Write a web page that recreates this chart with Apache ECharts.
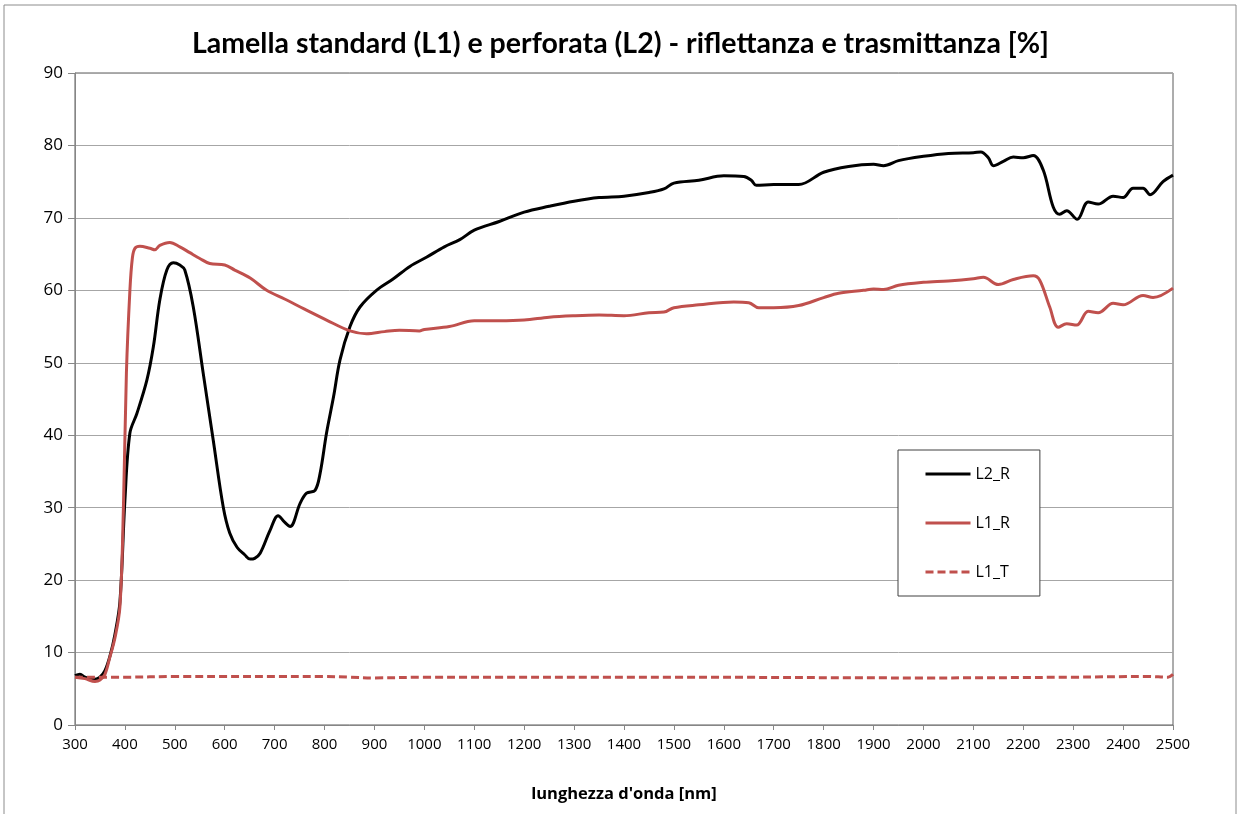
<!DOCTYPE html>
<html>
<head>
<meta charset="utf-8">
<script src="https://cdn.jsdelivr.net/npm/echarts@6/dist/echarts.min.js"></script>
<style>
  html, body { margin: 0; padding: 0; background: #fff; }
  #chart { width: 1241px; height: 814px; }
</style>
</head>
<body>
<div id="chart"></div>
<script>
// wavelength [nm], value [%]
const L2_R = [
  [300, 6.8], [310, 7.0], [320, 6.6], [330, 6.4], [340, 6.3], [350, 6.6], [360, 7.5], [370, 9.5],
  [380, 12.5], [390, 17], [400, 31], [410, 40.3], [424, 43], [444, 47.6], [457, 52.2], [470, 58.7],
  [484, 62.8], [497, 63.8], [510, 63.5], [520, 62.8], [537, 57.7], [557, 48.5], [577, 39.3],
  [597, 30.1], [610, 26.5], [625, 24.5], [640, 23.5], [651, 22.9], [660, 23], [671, 23.7],
  [691, 26.9], [707, 28.9], [720, 28], [731, 27.4], [751, 30.6], [764, 32], [781, 32.4],
  [791, 34.7], [804, 40.3], [818, 45.3], [831, 50.4], [851, 55], [871, 57.7], [904, 60],
  [938, 61.6], [971, 63.3], [1005, 64.6], [1040, 66], [1071, 67], [1100, 68.3], [1150, 69.5],
  [1200, 70.8], [1250, 71.6], [1300, 72.3], [1350, 72.8], [1400, 73], [1450, 73.5], [1480, 74],
  [1500, 74.8], [1550, 75.2], [1600, 75.8], [1640, 75.7], [1655, 75.2], [1665, 74.5], [1700, 74.6],
  [1750, 74.6], [1800, 76.3], [1850, 77.1], [1900, 77.4], [1920, 77.2], [1950, 77.9], [2000, 78.5],
  [2050, 78.9], [2100, 79], [2115, 79.1], [2130, 78.3], [2140, 77.2], [2160, 77.8], [2180, 78.4],
  [2200, 78.3], [2220, 78.6], [2240, 76.6], [2260, 71.5], [2273, 70.5], [2287, 71], [2308, 69.8],
  [2330, 72.2], [2350, 71.9], [2380, 73], [2400, 72.8], [2420, 74.1], [2440, 74.1], [2454, 73.2],
  [2480, 75], [2500, 75.9]
];

const L1_R = [
  [300, 6.6], [320, 6.4], [340, 6.0], [350, 6.2], [360, 7], [370, 9.4], [380, 12], [390, 16.3],
  [397, 30], [403, 48.6], [410, 60], [415, 64.5], [420, 65.8], [430, 66.1], [450, 65.8], [460, 65.6],
  [470, 66.2], [490, 66.6], [510, 66], [530, 65.2], [550, 64.4], [570, 63.7], [600, 63.5],
  [620, 62.8], [651, 61.7], [684, 60], [720, 58.8], [760, 57.4], [804, 55.9], [851, 54.4],
  [884, 54.0], [920, 54.3], [950, 54.5], [990, 54.4], [1000, 54.6], [1050, 55], [1100, 55.8],
  [1150, 55.8], [1200, 55.9], [1250, 56.3], [1300, 56.5], [1350, 56.6], [1400, 56.5], [1450, 56.9],
  [1480, 57.0], [1500, 57.6], [1550, 58], [1620, 58.4], [1650, 58.3], [1670, 57.6], [1700, 57.6],
  [1750, 57.9], [1800, 59], [1830, 59.6], [1880, 60], [1900, 60.2], [1920, 60.1], [1950, 60.7],
  [2000, 61.1], [2050, 61.3], [2100, 61.6], [2120, 61.8], [2150, 60.8], [2180, 61.5], [2220, 62],
  [2233, 61.4], [2253, 57.7], [2270, 54.9], [2287, 55.4], [2307, 55.2], [2330, 57.1], [2350, 56.9],
  [2380, 58.2], [2400, 58], [2440, 59.3], [2460, 59], [2500, 60.3]
];

const L1_T = [
  [300, 6.6], [400, 6.6], [500, 6.7], [800, 6.7], [850, 6.6], [900, 6.5], [1000, 6.6],
  [1500, 6.6], [2000, 6.5], [2300, 6.6], [2450, 6.7], [2490, 6.6], [2500, 7.0]
];

const seriesNames = ['L2_R', 'L1_R', 'L1_T'];
const chartTitle = "Lamella standard (L1) e perforata (L2) - riflettanza e trasmittanza [%]";
const xTitle = "lunghezza d'onda [nm]";

var myChart = echarts.init(document.getElementById('chart'));

const lineSeries = (name, data, color, type) => ({
  name: name,
  type: 'line',
  data: data,
  symbol: 'none',
  showSymbol: false,
  smooth: 0.35,
  lineStyle: { color: color, width: 3, type: type },
  itemStyle: { color: color }
});

const option = {
  backgroundColor: '#fff',
  animation: false,
  graphic: [{
    type: 'rect',
    shape: { x: 4, y: 5, width: 1232, height: 830 },
    style: { fill: 'none', stroke: '#8c8c8c', lineWidth: 1 },
    silent: true
  }],
  title: {
    text: chartTitle,
    left: 'center',
    top: 24,
    textStyle: {
      fontFamily: 'Lato',
      fontWeight: 'bold',
      fontSize: 28.5,
      color: '#000'
    }
  },
  legend: {
    data: seriesNames,
    orient: 'vertical',
    left: 898,
    top: 450,
    itemWidth: 45,
    itemHeight: 14,
    itemGap: 33,
    padding: [16, 30, 16, 26],
    backgroundColor: '#fff',
    borderColor: '#404040',
    borderWidth: 1,
    borderRadius: 0,
    itemStyle: { opacity: 0 },
    lineStyle: { width: 3 },
    textStyle: { fontFamily: 'Open Sans', fontSize: 16, color: '#000' }
  },
  grid: {
    left: 75,
    right: 68,
    top: 73,
    bottom: 89,
    show: true,
    borderColor: '#5a5a5a',
    borderWidth: 1
  },
  xAxis: {
    type: 'value',
    min: 300,
    max: 2500,
    interval: 100,
    name: xTitle,
    nameLocation: 'middle',
    nameGap: 61,
    nameTextStyle: { fontFamily: 'Open Sans', fontWeight: 'bold', fontSize: 16.5, color: '#000' },
    axisLine: { lineStyle: { color: '#868686', width: 1 } },
    axisTick: { show: true, length: 5, inside: false, lineStyle: { color: '#868686' } },
    axisLabel: {
      fontFamily: 'Open Sans', fontSize: 15, color: '#000', margin: 12,
      formatter: (v) => String(v)
    },
    splitLine: { show: false }
  },
  yAxis: {
    type: 'value',
    min: 0,
    max: 90,
    interval: 10,
    axisLine: { show: true, lineStyle: { color: '#868686', width: 1 } },
    axisTick: { show: true, length: 7, lineStyle: { color: '#868686' } },
    axisLabel: { fontFamily: 'Open Sans', fontSize: 17, color: '#000', margin: 12 },
    splitLine: { show: true, lineStyle: { color: '#a6a6a6', width: 1 } }
  },
  series: [
    lineSeries('L2_R', L2_R, '#000000', 'solid'),
    lineSeries('L1_R', L1_R, '#c0504d', 'solid'),
    lineSeries('L1_T', L1_T, '#c0504d', [8, 4])
  ]
};

myChart.setOption(option);
</script>
</body>
</html>
